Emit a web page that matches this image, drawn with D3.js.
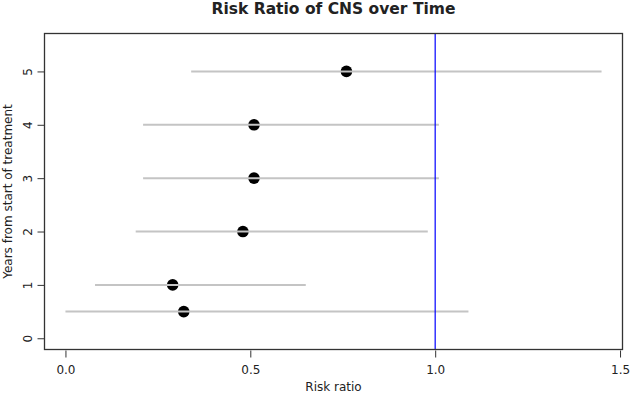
<!DOCTYPE html>
<html>
<head>
<meta charset="utf-8">
<script src="https://cdn.jsdelivr.net/npm/d3@7"></script>
<style>
  body { margin: 0; background: #fff; }
  text { font-family: "DejaVu Sans", sans-serif; fill: #222; }
</style>
</head>
<body>
<div id="chart"></div>
<script>
// values
const years = [5, 4, 3, 2, 1, 0.5];
const riskRatio = [0.76, 0.51, 0.51, 0.48, 0.29, 0.32];
const lower = [0.34, 0.21, 0.21, 0.19, 0.08, 0.0];
const upper = [1.45, 1.01, 1.01, 0.98, 0.65, 1.09];
const xTicks = [0, 0.5, 1, 1.5];
const yTicks = [0, 1, 2, 3, 4, 5];
const refLine = 1.0;

const WIDTH = 630, HEIGHT = 394;
const margin = { top: 33, right: 7, bottom: 44, left: 44 };

const svg = d3.select("#chart").append("svg")
    .attr("width", WIDTH)
    .attr("height", HEIGHT);

// R style 4% padding around data range
const x = d3.scaleLinear()
    .domain([0 - 0.058, 1.45 + 0.058])
    .range([margin.left, WIDTH - margin.right]);
const y = d3.scaleLinear()
    .domain([-0.22, 5.72])
    .range([HEIGHT - margin.bottom, margin.top]);

const rows = years.map((yr, i) => ({ yr, rr: riskRatio[i], lo: lower[i], hi: upper[i] }));

// points first, CI lines over them (as in the original)
svg.selectAll(".pt").data(rows).enter().append("circle")
    .attr("class", "pt")
    .attr("cx", d => x(d.rr))
    .attr("cy", d => y(d.yr))
    .attr("r", 5.8)
    .attr("fill", "#000");

svg.selectAll(".ci").data(rows).enter().append("line")
    .attr("class", "ci")
    .attr("x1", d => x(d.lo))
    .attr("x2", d => x(d.hi))
    .attr("y1", d => y(d.yr))
    .attr("y2", d => y(d.yr))
    .attr("stroke", "#c4c4c4")
    .attr("stroke-width", 2);

svg.append("line")
    .attr("x1", x(refLine)).attr("x2", x(refLine))
    .attr("y1", margin.top).attr("y2", HEIGHT - margin.bottom)
    .attr("stroke", "#0000ff")
    .attr("stroke-width", 1.2);

// box
svg.append("rect")
    .attr("x", margin.left + 0.5)
    .attr("y", margin.top + 0.5)
    .attr("width", WIDTH - margin.left - margin.right - 1)
    .attr("height", HEIGHT - margin.top - margin.bottom - 1)
    .attr("fill", "none")
    .attr("stroke", "#333")
    .attr("stroke-width", 1.3);

// axes
const xAxis = d3.axisBottom(x).tickValues(xTicks).tickFormat(d3.format(".1f"))
    .tickSizeInner(7).tickSizeOuter(0).tickPadding(8);
const gx = svg.append("g")
    .attr("transform", `translate(0,${HEIGHT - margin.bottom + 0.5})`)
    .call(xAxis);
gx.select(".domain").remove();
gx.selectAll("line").attr("stroke", "#333");
gx.selectAll("text").style("font-size", "12px").attr("fill", "#222");

const yAxis = d3.axisLeft(y).tickValues(yTicks).tickFormat(d3.format("d"))
    .tickSizeInner(7).tickSizeOuter(0);
const gy = svg.append("g")
    .attr("transform", `translate(${margin.left + 0.5},0)`)
    .call(yAxis);
gy.select(".domain").remove();
gy.selectAll("line").attr("stroke", "#333");
gy.selectAll("text")
    .style("font-size", "12px")
    .attr("fill", "#222")
    .attr("x", 0).attr("dy", null)
    .attr("text-anchor", "middle")
    .attr("transform", "translate(-13,0) rotate(-90)");

// titles
svg.append("text")
    .attr("x", (margin.left + WIDTH - margin.right) / 2)
    .attr("y", 13.5)
    .attr("text-anchor", "middle")
    .style("font-size", "15.5px")
    .style("font-weight", "bold")
    .text("Risk Ratio of CNS over Time");

svg.append("text")
    .attr("x", (margin.left + WIDTH - margin.right) / 2)
    .attr("y", 391)
    .attr("text-anchor", "middle")
    .style("font-size", "12px")
    .text("Risk ratio");

svg.append("text")
    .attr("transform", `translate(12,${(margin.top + HEIGHT - margin.bottom) / 2}) rotate(-90)`)
    .attr("text-anchor", "middle")
    .style("font-size", "12px")
    .text("Years from start of treatment");
</script>
</body>
</html>
